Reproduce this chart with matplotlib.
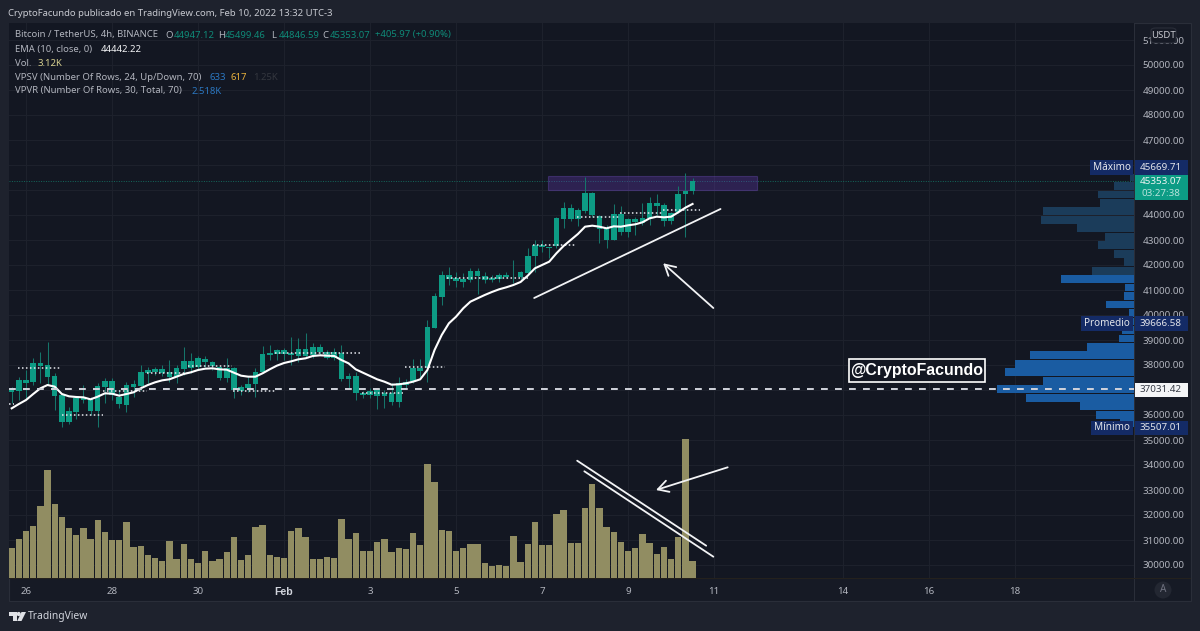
import numpy as np
import matplotlib
matplotlib.use("Agg")
import matplotlib.pyplot as plt
from matplotlib.patches import Rectangle, FancyBboxPatch, Circle, Polygon

plt.rcParams['font.family'] = ['Noto Sans', 'DejaVu Sans']

W, H = 1200, 631
BG, PANE, AXIS = '#1e222d', '#131722', '#161a25'
BORDER = '#2a2e39'
GRID = '#1d212c'
TEAL, WICK = '#0d9b84', '#15756a'
TXT = '#b2b5be'
BOLD_FONT = ['Liberation Sans', 'DejaVu Sans']

# ---- data -------------------------------------------------------------
date_ticks = [2, 14, 26, 38, 50, 62, 74, 86, 98, 116, 128, 140]
date_labels = ['26', '28', '30', 'Feb', '3', '5', '7', '9', '11', '14', '16', '18']
price_ticks = list(range(30000, 52000, 1000))
covered_ticks = [37000, 45000, 46000]

candle_high = [37133,37533,37800,38267,38507,38933,37667,36800,36307,36760,37200,36733,37267,37467,37493,37000,
    37333,37400,38000,37933,37933,38000,38200,38000,38733,38467,38360,38360,38173,37973,38267,37933,
    37200,37533,37867,38760,38800,38627,38667,39107,39067,39267,38867,38827,38600,38667,38800,37667,
    37733,36973,37067,37067,37000,37267,37533,37427,38240,38227,39800,40867,41773,41933,41733,41667,
    41867,41867,41733,41600,41667,41707,42200,41773,42667,43000,43000,42733,43907,44533,44440,44267,
    45533,44907,44000,43600,44440,44360,43867,43907,44493,44707,44827,44467,44133,45160,45669.71,45499.46]
body_top = [37067,37400,37400,38067,38067,38000,37573,36800,36160,36667,36707,36627,37160,37360,37373,36733,
    37200,37240,37733,37800,37827,37827,37733,37867,38173,38173,38267,38253,38107,37933,37867,37867,
    37120,37240,37707,38427,38493,38587,38587,38467,38627,38627,38707,38707,38533,38533,38467,37573,
    37573,36893,36973,37040,36893,36893,37293,37333,37867,37867,39507,40760,41600,41600,41467,41440,
    41773,41773,41547,41467,41600,41613,41533,41720,42373,42800,42800,42707,43867,44267,44267,44200,
    44893,44867,43973,43467,44040,44040,43827,43827,43867,44467,44467,44387,44093,44840,44973,45353.07]
body_bottom = [36933,36947,37293,37307,37973,37533,36760,35733,35720,36133,36600,36173,36173,37107,36800,36440,
    36400,37133,37173,37693,37707,37693,37533,37507,37827,37893,37933,38107,37960,37467,37467,37000,
    36973,37067,37227,37720,38400,38440,38427,38400,38360,38360,38413,38507,38267,38267,37427,37427,
    36867,36813,36800,36760,36760,36507,36533,37200,37373,37773,37867,39493,40733,41440,41360,41333,
    41400,41547,41400,41387,41427,41507,41520,41507,41680,42360,42707,42667,42760,43840,43827,43840,
    44173,44000,43427,43000,43000,43333,43333,43707,43693,43867,44373,43760,43760,44133,44840,44947.12]
candle_low = [36467,36600,36667,37200,37267,37200,36200,35507.01,35640,35827,36467,36000,35533,36467,36600,36267,
    36133,36733,37000,37267,37600,37560,37333,37267,37600,37667,37800,37933,37800,37400,37333,36667,
    36800,36933,36733,37667,38200,38200,38200,38000,38133,38267,38267,38400,38227,38200,37373,37067,
    36600,36667,36667,36227,36267,36400,36307,37067,37267,37533,37307,39467,40400,41200,41133,41133,
    41333,40840,41293,41333,41333,41467,41267,41400,41600,41733,42533,42267,42667,43467,43760,43573,
    44067,43907,42867,42667,43000,43200,43107,43200,43600,43600,44000,43560,43627,44067,43107,44846.59]
ema10 = [36267,36440,36600,36840,37067,37200,37133,36840,36747,36720,36707,36627,36733,36867,36853,36773,
    36840,36907,37067,37200,37307,37387,37427,37533,37640,37707,37800,37853,37867,37827,37813,37693,
    37573,37533,37533,37667,37827,37973,38080,38147,38227,38267,38360,38387,38373,38360,38200,38067,
    37827,37693,37560,37427,37333,37213,37227,37267,37333,37427,37800,38600,39200,39667,39933,40267,
    40533,40667,40800,40920,41027,41107,41200,41320,41573,41867,42000,42133,42467,42760,43000,43240,
    43533,43573,43533,43467,43547,43533,43587,43627,43707,43867,43933,43907,43933,44107,44293,44442.22]
volume_k = [5.5,7.1,8.7,9.6,13.2,19.8,13.5,11.1,9.2,7.8,9.1,7.2,10.6,8.4,6.9,6.9,
    10.2,5.6,5.9,4.3,3.7,3.1,6.7,3.5,6.2,3.5,2.8,4.9,3.2,3.5,4.7,7.5,
    3.3,4.3,9.3,9.7,4.3,3.8,3.7,8.6,9.2,7.6,3.4,3.5,3.9,3.7,10.8,7.1,
    8.3,4.9,4.9,6.6,7.2,4.7,5.5,5.3,8.3,6.1,20.9,17.6,8.8,8.6,4.9,5.5,
    6.2,6.2,2.7,2.2,2.4,2.2,7.7,2.9,6.2,10.3,6.1,6.0,11.7,12.4,6.4,6.4,
    12.9,17.2,12.8,9.4,8.4,6.6,4.9,5.5,8.1,6.5,4.4,5.6,3.5,7.6,25.5,3.12]
profile_rows = [43,115,163,323,411,272,387,356,313,141,45,36,30,16,83,31,26,220,
    125,31,60,108,88,171,278,274,101,108,60,12]
profile_bright_rows = 18

level_start = [-0.4,0.9,7.0,12.7,18.9,24.6,30.9,36.7,48.9,54.9,60.7,72.7,78.9,84.9,90.9]
level_end = [0.3,6.7,12.7,18.9,24.5,30.7,36.7,48.7,54.6,60.5,72.3,78.6,84.9,90.9,96.0]
level_price = [36440,37867,36000,36973,37693,37973,36947,38467,36893,37933,41493,42787,43933,44093,44187]

last_close = 45353.07
poc_price = 37031.42
zone = (74.8, 104.0, 45000, 45560)
trend_up = ([72.9, 98.9], [40680, 44240])
arrow_up = ((90.9, 42068), (97.9, 40280))
double_a = ([78.9, 96.9], [34172, 30772])
double_b = ([79.9, 97.9], [33748, 30332])
arrow_vol = ((89.9, 33000), (99.9, 33908))

# ---- figure -----------------------------------------------------------
fig = plt.figure(figsize=(W / 100, H / 100), dpi=100, facecolor=BG)

L, R, T, B = 9, 1134, 23, 578
rect = [L / W, 1 - B / H, (R - L) / W, (B - T) / H]
xlim = ((L - 11.7) / 7.167, (R - 11.7) / 7.167)
ylim = (30000 - 13 * 40, 30000 + 542 * 40)


def px_rect(x0, y0, x1, y1, **kw):
    p = Rectangle((x0 / W, 1 - y1 / H), (x1 - x0) / W, (y1 - y0) / H,
                  transform=fig.transFigure, **kw)
    fig.add_artist(p)
    return p


def px_text(x, y, s, color=TXT, size=6.85, ha='left', weight='normal', z=20, family=None):
    return fig.text(x / W, 1 - y / H, s, color=color, fontsize=size, ha=ha,
                    va='center', fontweight=weight, zorder=z,
                    family=family if family else plt.rcParams['font.family'])


# frame and panes
px_rect(8.5, 22.5, 1191, 601, facecolor=AXIS, edgecolor=BORDER, lw=0.8, zorder=-5)

ax_grid = fig.add_axes(rect, zorder=0, facecolor=PANE)
ax_grid.set_xlim(xlim); ax_grid.set_ylim(ylim)
ax_grid.set_xticks(date_ticks); ax_grid.set_yticks(price_ticks)
ax_grid.grid(True, color=GRID, lw=0.8)
ax_grid.tick_params(length=0, labelbottom=False, labelleft=False)
for s in ax_grid.spines.values():
    s.set_visible(False)

ax_vol = fig.add_axes(rect, zorder=1, frameon=False)
ax_vol.bar(range(len(volume_k)), volume_k, width=0.88, color='#918d62', linewidth=0)
ax_vol.set_xlim(xlim); ax_vol.set_ylim(0, 101.8); ax_vol.axis('off')

ax_vp = fig.add_axes(rect, zorder=2, frameon=False)
edges = np.linspace(35507.01, 45669.71, len(profile_rows) + 1)
centres = (edges[:-1] + edges[1:]) / 2
vp_colors = ['#1a5ca2' if i < profile_bright_rows else '#1b3c5a' for i in range(len(profile_rows))]
ax_vp.barh(centres, profile_rows, height=(edges[1] - edges[0]) * 0.92, color=vp_colors, linewidth=0)
ax_vp.set_xlim((R - L) * 3, 0); ax_vp.set_ylim(ylim); ax_vp.axis('off')

ax = fig.add_axes(rect, zorder=3, frameon=False)
ax.set_xlim(xlim); ax.set_ylim(ylim)
idx = np.arange(len(candle_high))
ax.add_patch(Rectangle((zone[0], zone[2]), zone[1] - zone[0], zone[3] - zone[2],
                       facecolor='#673ab7', alpha=0.32, edgecolor='#7a55d0', lw=0.8, zorder=1.5))
ax.vlines(idx, candle_low, candle_high, color=WICK, lw=0.75, zorder=2)
ax.bar(idx, np.array(body_top) - np.array(body_bottom), bottom=body_bottom, width=0.78,
       color=TEAL, linewidth=0, zorder=3)

ax.axhline(last_close, color='#14685c', lw=0.7, ls=(0, (1, 1.5)), zorder=1)
ax.hlines(level_price, level_start, level_end, color='#e6e8ee', lw=1.1,
          linestyles=[(0, (1.0, 1.6))], zorder=5)
ax.plot(idx, ema10, color='white', lw=1.5, zorder=6, solid_joinstyle='round')
ax.axhline(poc_price, color='#d1d4dc', lw=1.4, ls=(0, (3.5, 3.7)), zorder=6)

for xs, ys in (trend_up, double_a, double_b):
    ax.plot(xs, ys, color='#f2f3f5', lw=1.3, zorder=7, solid_capstyle='round')
for tip, tail in (arrow_up, arrow_vol):
    ax.annotate('', xy=tip, xytext=tail, zorder=7,
                arrowprops=dict(arrowstyle='->,head_length=0.75,head_width=0.42', color='#f2f3f5',
                                lw=1.3, shrinkA=0, shrinkB=0))

# axes ticks
ax.set_xticks(date_ticks)
ax.set_xticklabels(date_labels, color=TXT, fontsize=7.0)
feb = ax.get_xticklabels()[3]
feb.set_family(BOLD_FONT); feb.set_fontweight('bold'); feb.set_color('#d1d4dc'); feb.set_fontsize(7.6)
ax.yaxis.tick_right()
ax.set_yticks(price_ticks)
ax.set_yticklabels(['' if p in covered_ticks else f'{p:.2f}' for p in price_ticks], color=TXT, fontsize=7.05)
ax.tick_params(axis='both', length=0)
ax.tick_params(axis='x', pad=6.5)
ax.tick_params(axis='y', pad=6)
for s in ax.spines.values():
    s.set_visible(False)

# pane separators
px_rect(R, 23, R + 0.8, 601, facecolor=BORDER, lw=0, zorder=6)
px_rect(9, B, 1191, B + 0.8, facecolor='#24211d', lw=0, zorder=6)

# header and legend
px_text(8, 13, 'CryptoFacundo publicado en TradingView.com, Feb 10, 2022 13:32 UTC-3', color='#c8cad1')
GREEN = '#0f8a78'
rows = [
    (35, [(15, 'Bitcoin / TetherUS, 4h, BINANCE', TXT), (165, 'O', TXT), (174, '44947.12', GREEN), (218, 'H', TXT),
          (225, '45499.46', GREEN), (271, 'L', TXT), (279, '44846.59', GREEN), (322, 'C', TXT),
          (330, '45353.07', GREEN), (375, '+405.97 (+0.90%)', GREEN)]),
    (49.5, [(15, 'EMA (10, close, 0)', TXT), (101, '44442.22', '#f2f3f5')]),
    (63.5, [(15, 'Vol.', TXT), (38, '3.12K', '#d8d190')]),
    (77, [(15, 'VPSV (Number Of Rows, 24, Up/Down, 70)', TXT), (209, '633', '#2b78c2'), (230, '617', '#e8b13c'),
          (253, '1.25K', '#34373f')]),
    (91, [(15, 'VPVR (Number Of Rows, 30, Total, 70)', TXT), (191, '2.518K', '#2b78c2')]),
]
for y, parts in rows:
    for x, s, c in parts:
        px_text(x, y, s, color=c)

# price axis labels
NAVY = '#142b66'
LBL = '#e3e5ea'
for x0, x1, y0, y1, s in [(1090, 1133, 160, 174.5, 'Máximo'), (1081, 1133, 316, 331, 'Promedio'),
                          (1091, 1133, 420.5, 435, 'Mínimo')]:
    px_rect(x0, y0, x1, y1, facecolor=NAVY, lw=0, zorder=15)
    px_text((x0 + x1) / 2, (y0 + y1) / 2, s, color=LBL, size=7.2, ha='center')
for y0, y1, s in [(160, 174.5, '45669.71'), (316, 331, '39666.58'), (420.5, 435, '35507.01')]:
    px_rect(1134.5, y0, 1188, y1, facecolor=NAVY, lw=0, zorder=15)
    px_text(1161, (y0 + y1) / 2, s, color=LBL, size=7.05, ha='center')
px_rect(1134.5, 174.5, 1188, 200, facecolor='#0c9c85', lw=0, zorder=16)
px_text(1161, 181, '45353.07', color='#eef3f2', size=7.05, ha='center')
px_text(1161, 193, '03:27:38', color='#b9e3dc', size=7.05, ha='center')
px_rect(1134.5, 382.5, 1188, 397, facecolor='#f4f5f7', lw=0, zorder=16)
px_text(1161, 389.5, '37031.42', color='#363a45', size=7.05, ha='center')

# @CryptoFacundo label
px_rect(848.5, 358.5, 984.5, 382, facecolor=PANE, edgecolor='white', lw=1.2, zorder=15)
px_text(916.5, 370, '@CryptoFacundo', color='white', size=11.4, ha='center', weight='bold', family=BOLD_FONT)

# USDT pill
fig.add_artist(FancyBboxPatch((1151 / W, 1 - 43 / H), 25 / W, 15 / H, transform=fig.transFigure,
                              boxstyle='round,pad=0,rounding_size=0.004', facecolor=AXIS,
                              edgecolor=BORDER, lw=0.8, zorder=15))
px_text(1163.5, 35, 'USDT', color='#c6c8cf', size=6.9, ha='center')

# auto-scale button
fig.add_artist(Circle((1163, H - 590), 8.5, transform=None, facecolor='#232732', lw=0, zorder=15))
px_text(1163, 590, 'A', color='#6f7280', size=7.2, ha='center')

# TradingView logo
LOGO = '#dfe1e6'
px_rect(8.5, 612, 16.5, 616, facecolor=LOGO, lw=0, zorder=15)
px_rect(12.5, 612, 16.5, 621, facecolor=LOGO, lw=0, zorder=15)
fig.add_artist(Circle((18.7, H - 614), 2.1, transform=None, facecolor=LOGO, lw=0, zorder=15))
fig.add_artist(Polygon([(21.5 / W, 1 - 612 / H), (26 / W, 1 - 612 / H), (21.5 / W, 1 - 621 / H), (17.2 / W, 1 - 621 / H)],
                       transform=fig.transFigure, facecolor=LOGO, lw=0, zorder=15))
px_text(28, 617, 'TradingView', color='#d1d4dc', size=7.4)

fig.savefig('out.png', dpi=100, facecolor=BG)
